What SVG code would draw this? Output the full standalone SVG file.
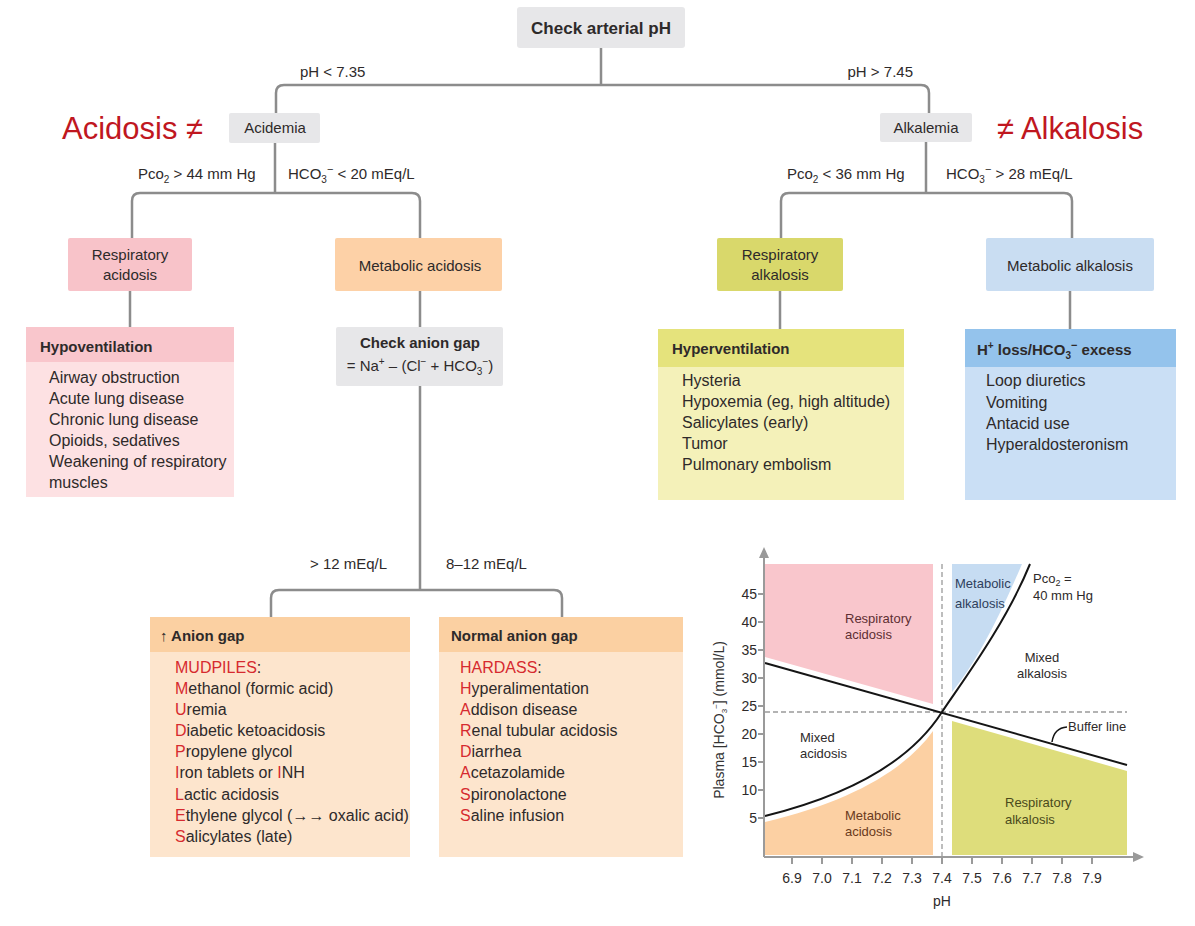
<svg xmlns="http://www.w3.org/2000/svg" width="1195" height="926" viewBox="0 0 1195 926">
<style>
text{font-family:"Liberation Sans",Arial,sans-serif;fill:#2e2a2a}
.t15{font-size:15px}
.t16{font-size:16px}
.b{font-weight:bold}
.mid{text-anchor:middle}
.red{fill:#c0171f;font-size:31px}
.ltr{fill:#d62a2f}
.conn{fill:none;stroke:#8c8c8c;stroke-width:2.5}
.gray{fill:#e7e7e9}
.g{font-size:13px}
.tick{font-size:14px;fill:#333}
.ax{stroke:#9a9a9a;stroke-width:2;fill:none}
.dash{stroke:#9a9a9a;stroke-width:1.3;stroke-dasharray:5 3;fill:none}
</style>
<rect width="1195" height="926" fill="#ffffff"/>

<g id="connectors">
<path class="conn" d="M601,48 V85 M276,115 V93 Q276,85 284,85 H921 Q929,85 929,93 V115"/>
<path class="conn" d="M275,143 V193 M132,240 V201 Q132,193 140,193 H412 Q420,193 420,201 V240"/>
<path class="conn" d="M926,142 V193 M781,240 V201 Q781,193 789,193 H1064 Q1072,193 1072,201 V240"/>
<path class="conn" d="M130,291 V327 M420,291 V327 M780,291 V329 M1070,291 V329"/>
<path class="conn" d="M420,386 V590 M271,618 V598 Q271,590 279,590 H554 Q562,590 562,598 V618"/>
</g>

<g id="edge-labels">
<text class="t15" x="300" y="77">pH &lt; 7.35</text>
<text class="t15" x="913" y="77" text-anchor="end">pH &gt; 7.45</text>
<text class="t15" x="138" y="179">Pco<tspan font-size="10" dy="4">2</tspan><tspan dy="-4"> &gt; 44 mm Hg</tspan></text>
<text class="t15" x="288" y="179">HCO<tspan font-size="10" dy="4">3</tspan><tspan font-size="11" dy="-10">−</tspan><tspan dy="6"> &lt; 20 mEq/L</tspan></text>
<text class="t15" x="787" y="179">Pco<tspan font-size="10" dy="4">2</tspan><tspan dy="-4"> &lt; 36 mm Hg</tspan></text>
<text class="t15" x="946" y="179">HCO<tspan font-size="10" dy="4">3</tspan><tspan font-size="11" dy="-10">−</tspan><tspan dy="6"> &gt;  28 mEq/L</tspan></text>
<text class="t15" x="310" y="569">&gt; 12 mEq/L</text>
<text class="t15" x="446" y="569">8–12 mEq/L</text>
</g>

<g id="annot-acidosis"><text class="red" x="62" y="139">Acidosis ≠</text></g>
<g id="annot-alkalosis"><text class="red" x="997" y="139">≠ Alkalosis</text></g>

<g id="check-ph">
<rect class="gray" x="517" y="7" width="168" height="41" rx="3"/>
<text class="b mid" x="601" y="34" font-size="17">Check arterial pH</text>
</g>

<g id="acidemia">
<rect class="gray" x="229" y="113" width="91" height="30" rx="2"/>
<text class="t15 mid" x="275" y="133">Acidemia</text>
</g>

<g id="alkalemia">
<rect class="gray" x="880" y="113" width="92" height="29" rx="2"/>
<text class="t15 mid" x="926" y="133">Alkalemia</text>
</g>

<g id="resp-acidosis">
<rect x="68" y="238" width="124" height="53" fill="#f8c3c9" rx="2"/>
<text class="t15 mid" x="130" y="260">Respiratory</text>
<text class="t15 mid" x="130" y="280">acidosis</text>
</g>

<g id="met-acidosis">
<rect x="335" y="238" width="167" height="53" fill="#fdd1a7" rx="2"/>
<text class="t15 mid" x="420" y="271">Metabolic acidosis</text>
</g>

<g id="resp-alkalosis">
<rect x="717" y="238" width="126" height="53" fill="#d9d86b" rx="2"/>
<text class="t15 mid" x="780" y="260">Respiratory</text>
<text class="t15 mid" x="780" y="280">alkalosis</text>
</g>

<g id="met-alkalosis">
<rect x="986" y="238" width="168" height="53" fill="#c9ddf2" rx="2"/>
<text class="t15 mid" x="1070" y="271">Metabolic alkalosis</text>
</g>

<g id="hypoventilation">
<rect x="26" y="327" width="208" height="170" fill="#fde1e3"/>
<rect x="26" y="327" width="208" height="35" fill="#f9c6cc"/>
<text class="t15 b" x="40" y="352">Hypoventilation</text>
<text class="t16" x="49" y="383">Airway obstruction</text>
<text class="t16" x="49" y="404">Acute lung disease</text>
<text class="t16" x="49" y="425">Chronic lung disease</text>
<text class="t16" x="49" y="446">Opioids, sedatives</text>
<text class="t16" x="49" y="467">Weakening of respiratory</text>
<text class="t16" x="49" y="488">muscles</text>
</g>

<g id="check-anion-gap">
<rect class="gray" x="336" y="327" width="167" height="59" rx="2"/>
<text class="t15 b mid" x="420" y="348">Check anion gap</text>
<text class="t15 mid" x="420" y="371">= Na<tspan font-size="10" dy="-6">+</tspan><tspan dy="6"> – (Cl</tspan><tspan font-size="10" dy="-6">−</tspan><tspan dy="6"> + HCO</tspan><tspan font-size="10" dy="4">3</tspan><tspan font-size="10" dy="-10">−</tspan><tspan dy="6">)</tspan></text>
</g>

<g id="hyperventilation">
<rect x="658" y="329" width="246" height="171" fill="#f4f1b9"/>
<rect x="658" y="329" width="246" height="38" fill="#e5e37c"/>
<text class="t15 b" x="672" y="354">Hyperventilation</text>
<text class="t16" x="682" y="386">Hysteria</text>
<text class="t16" x="682" y="407">Hypoxemia (eg, high altitude)</text>
<text class="t16" x="682" y="428">Salicylates (early)</text>
<text class="t16" x="682" y="449">Tumor</text>
<text class="t16" x="682" y="470">Pulmonary embolism</text>
</g>

<g id="h-loss">
<rect x="965" y="329" width="211" height="171" fill="#cadff5"/>
<rect x="965" y="329" width="211" height="38" fill="#94c3ec"/>
<text class="t15 b" x="977" y="355">H<tspan font-size="10" dy="-6">+</tspan><tspan dy="6"> loss/HCO</tspan><tspan font-size="10" dy="4">3</tspan><tspan font-size="11" dy="-10">−</tspan><tspan dy="6"> excess</tspan></text>
<text class="t16" x="986" y="386">Loop diuretics</text>
<text class="t16" x="986" y="408">Vomiting</text>
<text class="t16" x="986" y="429">Antacid use</text>
<text class="t16" x="986" y="450">Hyperaldosteronism</text>
</g>

<g id="high-anion-gap">
<rect x="150" y="617" width="260" height="240" fill="#fde5cd"/>
<rect x="150" y="617" width="260" height="35" fill="#fbd0a2"/>
<text class="t15 b" x="160" y="641">↑ Anion gap</text>
<text class="t16" x="175" y="673"><tspan class="ltr">MUDPILES</tspan>:</text>
<text class="t16" x="175" y="694"><tspan class="ltr">M</tspan>ethanol (formic acid)</text>
<text class="t16" x="175" y="715"><tspan class="ltr">U</tspan>remia</text>
<text class="t16" x="175" y="736"><tspan class="ltr">D</tspan>iabetic ketoacidosis</text>
<text class="t16" x="175" y="757"><tspan class="ltr">P</tspan>ropylene glycol</text>
<text class="t16" x="175" y="778"><tspan class="ltr">I</tspan>ron tablets or <tspan class="ltr">I</tspan>NH</text>
<text class="t16" x="175" y="800"><tspan class="ltr">L</tspan>actic acidosis</text>
<text class="t16" x="175" y="821"><tspan class="ltr">E</tspan>thylene glycol (→→ oxalic acid)</text>
<text class="t16" x="175" y="842"><tspan class="ltr">S</tspan>alicylates (late)</text>
</g>

<g id="normal-anion-gap">
<rect x="439" y="617" width="244" height="240" fill="#fde5cd"/>
<rect x="439" y="617" width="244" height="35" fill="#fbd0a2"/>
<text class="t15 b" x="451" y="641">Normal anion gap</text>
<text class="t16" x="460" y="673"><tspan class="ltr">HARDASS</tspan>:</text>
<text class="t16" x="460" y="694"><tspan class="ltr">H</tspan>yperalimentation</text>
<text class="t16" x="460" y="715"><tspan class="ltr">A</tspan>ddison disease</text>
<text class="t16" x="460" y="736"><tspan class="ltr">R</tspan>enal tubular acidosis</text>
<text class="t16" x="460" y="757"><tspan class="ltr">D</tspan>iarrhea</text>
<text class="t16" x="460" y="778"><tspan class="ltr">A</tspan>cetazolamide</text>
<text class="t16" x="460" y="800"><tspan class="ltr">S</tspan>pironolactone</text>
<text class="t16" x="460" y="821"><tspan class="ltr">S</tspan>aline infusion</text>
</g>

<g id="davenport-graph">
<path d="M765,564 H933 V704 L765,657 Z" fill="#f9c6cc"/>
<path d="M765,822 C850,802 905,770 933,731 V855 H765 Z" fill="#fcd0a3"/>
<path d="M952,564 H1022 C1000,615 978,660 952,692 Z" fill="#c6dcf2"/>
<path d="M952,721 L1127,771 V855 H952 Z" fill="#dedd7b"/>
<path class="dash" d="M942,564 V857 M765,712 H1127"/>
<path d="M765,663 L1127,765" stroke="#151515" stroke-width="2" fill="none"/>
<path d="M765,816 C850,795 910,762 942,712 C962,682 1005,625 1030,564" stroke="#151515" stroke-width="2" fill="none"/>
<path d="M1052,742 Q1054,728 1067,727" stroke="#151515" stroke-width="1.5" fill="none"/>
<path class="ax" d="M764,857 V556 M764,857 H1136"/>
<path d="M764,547 L759,558 L769,558 Z M1144,857 L1133,852 L1133,862 Z" fill="#9a9a9a"/>
<path class="ax" stroke-width="1.5" d="M758,594 H764 M758,622 H764 M758,650 H764 M758,678 H764 M758,706 H764 M758,734 H764 M758,762 H764 M758,790 H764 M758,818 H764 M792,857 V864 M822,857 V864 M852,857 V864 M882,857 V864 M912,857 V864 M942,857 V864 M972,857 V864 M1002,857 V864 M1032,857 V864 M1062,857 V864 M1092,857 V864"/>
<g class="tick" text-anchor="end">
<text x="757" y="599">45</text><text x="757" y="627">40</text><text x="757" y="655">35</text><text x="757" y="683">30</text><text x="757" y="711">25</text><text x="757" y="739">20</text><text x="757" y="767">15</text><text x="757" y="795">10</text><text x="757" y="823">5</text>
</g>
<g class="tick" text-anchor="middle">
<text x="792" y="883">6.9</text><text x="822" y="883">7.0</text><text x="852" y="883">7.1</text><text x="882" y="883">7.2</text><text x="912" y="883">7.3</text><text x="942" y="883">7.4</text><text x="972" y="883">7.5</text><text x="1002" y="883">7.6</text><text x="1032" y="883">7.7</text><text x="1062" y="883">7.8</text><text x="1092" y="883">7.9</text>
<text x="942" y="906">pH</text>
</g>
<text class="tick" font-size="12" text-anchor="middle" transform="translate(724,720) rotate(-90)">Plasma [HCO<tspan font-size="8" dy="3">3</tspan><tspan font-size="8" dy="-8">−</tspan><tspan dy="5">] (mmol/L)</tspan></text>
<text class="g" x="845" y="623" fill="#5e2f33" style="fill:#5e2f33">Respiratory</text>
<text class="g" x="845" y="639" style="fill:#5e2f33">acidosis</text>
<text class="g" x="800" y="742">Mixed</text>
<text class="g" x="800" y="758">acidosis</text>
<text class="g" x="845" y="820" style="fill:#6a3a1c">Metabolic</text>
<text class="g" x="845" y="836" style="fill:#6a3a1c">acidosis</text>
<text class="g" x="955" y="588" style="fill:#2f3f5c">Metabolic</text>
<text class="g" x="955" y="608" style="fill:#2f3f5c">alkalosis</text>
<text class="g" x="1033" y="583">Pco<tspan font-size="9" dy="3">2</tspan><tspan dy="-3"> =</tspan></text>
<text class="g" x="1033" y="600">40 mm Hg</text>
<text class="g mid" x="1042" y="662">Mixed</text>
<text class="g mid" x="1042" y="678">alkalosis</text>
<text class="g" x="1068" y="731">Buffer line</text>
<text class="g" x="1005" y="807" style="fill:#4a4a1c">Respiratory</text>
<text class="g" x="1005" y="824" style="fill:#4a4a1c">alkalosis</text>
</g>
</svg>
